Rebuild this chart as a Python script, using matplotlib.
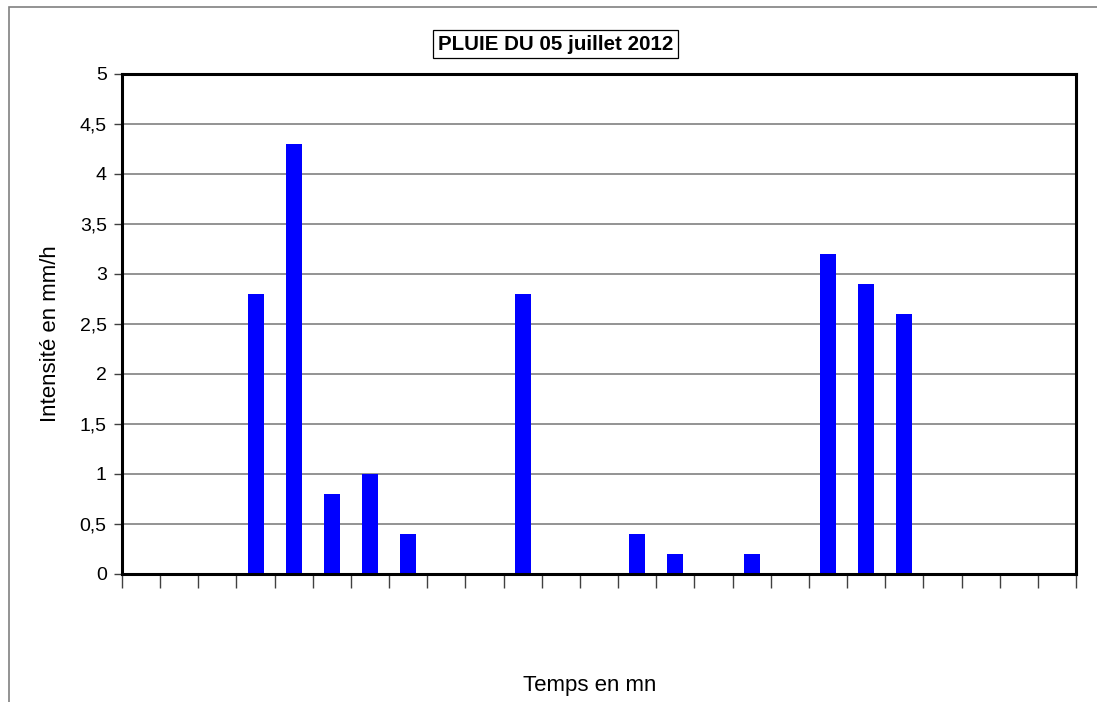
import matplotlib
matplotlib.use("Agg")
import matplotlib.pyplot as plt
from matplotlib.patches import Rectangle
import numpy as np

plt.rcParams['font.family'] = ['Liberation Sans', 'DejaVu Sans']

# Rain intensity per time step (mm/h)
intensite = [0, 0, 0, 2.8, 4.3, 0.8, 1.0, 0.4, 0, 0, 2.8, 0, 0, 0.4, 0.2,
             0, 0.2, 0, 3.2, 2.9, 2.6, 0, 0, 0, 0]
y_ticks = [0, 0.5, 1, 1.5, 2, 2.5, 3, 3.5, 4, 4.5, 5]
y_labels = ["0", "0,5", "1", "1,5", "2", "2,5", "3", "3,5", "4", "4,5", "5"]
titre = "PLUIE DU 05 juillet 2012"

W, H = 1097, 702
fig = plt.figure(figsize=(W / 100, H / 100), dpi=100)
fig.patch.set_facecolor("white")

# Outer chart border (extends beyond right and bottom edges)
fig.add_artist(Rectangle((8.5 / W, -0.1), 1.2, (H - 6.5) / H + 0.1,
                         transform=fig.transFigure, fill=False,
                         edgecolor="#808080", linewidth=1.2))

ax_l, ax_r, ax_t, ax_b = 122, 1076, 74, 574
ax = fig.add_axes([ax_l / W, 1 - ax_b / H, (ax_r - ax_l) / W, (ax_b - ax_t) / H])

n = len(intensite)
x = np.arange(n) + 0.5
ax.bar(x, intensite, width=16 / 38.16, color="#0000FF", zorder=3)

ax.set_xlim(0, n)
ax.set_ylim(0, 5)
ax.set_yticks(y_ticks)
ax.set_yticklabels(y_labels, fontsize=14)
ax.set_xticks(np.arange(n + 1))
ax.set_xticklabels([])
ax.tick_params(axis="x", length=10, width=1, color="#404040", direction="out")
ax.tick_params(axis="y", length=6, width=1, color="#404040", direction="out", pad=5)

ax.yaxis.grid(True, color="#808080", linewidth=1.2, zorder=0)
ax.set_axisbelow(True)
for s in ax.spines.values():
    s.set_linewidth(2.2)
    s.set_color("black")
    s.set_zorder(4)

fig.text(51 / W, 1 - 334 / H, "Intensité en mm/h", rotation=90,
         ha="center", va="center", fontsize=16)
fig.text(590 / W, 1 - 686 / H, "Temps en mn", ha="center", va="center",
         fontsize=16)

fig.text(555.5 / W, 1 - 44 / H, titre, ha="center", va="center",
         fontsize=14.8, fontweight="bold",
         bbox=dict(boxstyle="square,pad=0.22", facecolor="white",
                   edgecolor="black", linewidth=0.9))

fig.savefig("out.png", dpi=100)
